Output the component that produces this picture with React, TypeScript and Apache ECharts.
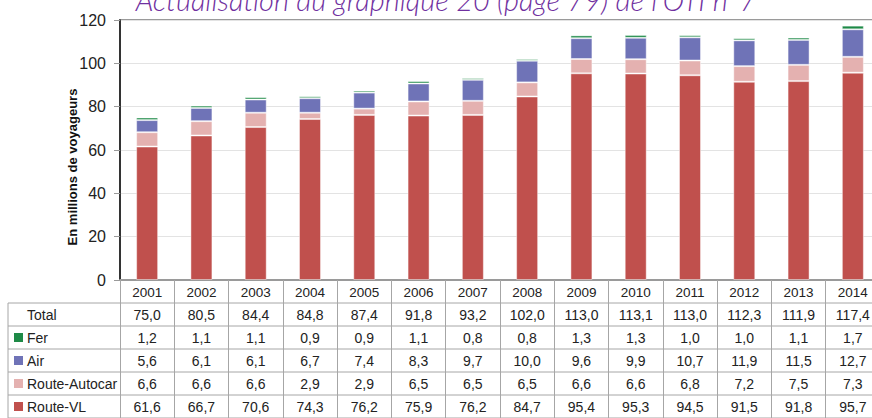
import React, { useEffect, useRef } from "react";
import * as echarts from "echarts";

const years = ["2001","2002","2003","2004","2005","2006","2007","2008","2009","2010","2011","2012","2013","2014"];
const total = [75.0, 80.5, 84.4, 84.8, 87.4, 91.8, 93.2, 102.0, 113.0, 113.1, 113.0, 112.3, 111.9, 117.4];
const fer = [1.2, 1.1, 1.1, 0.9, 0.9, 1.1, 0.8, 0.8, 1.3, 1.3, 1.0, 1.0, 1.1, 1.7];
const air = [5.6, 6.1, 6.1, 6.7, 7.4, 8.3, 9.7, 10.0, 9.6, 9.9, 10.7, 11.9, 11.5, 12.7];
const routeAutocar = [6.6, 6.6, 6.6, 2.9, 2.9, 6.5, 6.5, 6.5, 6.6, 6.6, 6.8, 7.2, 7.5, 7.3];
const routeVL = [61.6, 66.7, 70.6, 74.3, 76.2, 75.9, 76.2, 84.7, 95.4, 95.3, 94.5, 91.5, 91.8, 95.7];
const yTicks = [0, 20, 40, 60, 80, 100, 120];

const TITLE = "Actualisation du graphique 20 (page 79) de l'OTI n°7";
const Y_TITLE = "En millions de voyageurs";

const COLORS = {
  vl: "#C0504D",
  autocar: "#E4B1B0",
  air: "#6F73B7",
  fer: "#1E8A47",
};

const FONT = "'Liberation Sans', Arial, sans-serif";

export default function App() {
  const ref = useRef<HTMLDivElement>(null);
  useEffect(() => {
    if (!ref.current) return;
    const chart = echarts.init(ref.current, undefined, { renderer: "svg" });

    const W = 880;
    const LEFT = 120;
    const COLW = (W - LEFT) / years.length;
    const AXIS_Y = 280;
    const ROWH = 23;
    const TAB_LEFT = 8;
    const LINE = "#A6A6A6";

    const rows = [
      { name: "Total", data: total, color: null as string | null },
      { name: "Fer", data: fer, color: COLORS.fer },
      { name: "Air", data: air, color: COLORS.air },
      { name: "Route-Autocar", data: routeAutocar, color: COLORS.autocar },
      { name: "Route-VL", data: routeVL, color: COLORS.vl },
    ];

    const fmt = (v: number) => v.toFixed(1).replace(".", ",");

    const graphics: any[] = [];
    // title
    graphics.push({
      type: "text",
      x: 446,
      y: 14,
      style: {
        text: TITLE,
        fill: "#7030A0",
        font: "italic 300 29px Lato, 'Open Sans', sans-serif",
        align: "center",
        verticalAlign: "bottom",
      },
      silent: true,
    });
    // y title
    graphics.push({
      type: "text",
      x: 72,
      y: 167,
      rotation: Math.PI / 2,
      style: {
        text: Y_TITLE,
        fill: "#111",
        font: `bold 13px ${FONT}`,
        align: "center",
        verticalAlign: "middle",
      },
      silent: true,
    });
    // table horizontal lines
    for (let r = 0; r <= rows.length; r++) {
      const y = AXIS_Y + ROWH * (r + 1);
      graphics.push({
        type: "line",
        shape: { x1: TAB_LEFT, y1: y, x2: W, y2: y },
        style: { stroke: LINE, lineWidth: 1 },
        silent: true,
      });
    }
    graphics.push({
      type: "line",
      shape: { x1: TAB_LEFT, y1: AXIS_Y + ROWH, x2: TAB_LEFT, y2: AXIS_Y + ROWH * 6 },
      style: { stroke: LINE, lineWidth: 1 },
      silent: true,
    });
    rows.forEach((row, r) => {
      const cy = AXIS_Y + ROWH * (r + 1) + ROWH / 2;
      if (row.color) {
        graphics.push({
          type: "rect",
          shape: { x: 14, y: cy - 4.5, width: 9, height: 9 },
          style: { fill: row.color },
          silent: true,
        });
      }
      graphics.push({
        type: "text",
        x: 27,
        y: cy,
        style: { text: row.name, fill: "#222", font: `14px ${FONT}`, align: "left", verticalAlign: "middle" },
        silent: true,
      });
      row.data.forEach((v, i) => {
        graphics.push({
          type: "text",
          x: LEFT + COLW * (i + 0.5),
          y: cy,
          style: { text: fmt(v), fill: "#222", font: `14px ${FONT}`, align: "center", verticalAlign: "middle" },
          silent: true,
        });
      });
    });

    const barStyle = (color: string) => ({
      color,
      borderColor: "rgba(255,255,255,0.45)",
      borderWidth: 1,
    });

    chart.setOption({
      animation: false,
      backgroundColor: "#fff",
      textStyle: { fontFamily: FONT },
      grid: {
        left: LEFT,
        right: 0,
        top: 20,
        bottom: 418 - AXIS_Y,
        show: true,
        borderColor: "#9A9A9A",
        borderWidth: 2,
        backgroundColor: "transparent",
      },
      xAxis: {
        type: "category",
        data: years,
        axisLine: { lineStyle: { color: "#9A9A9A", width: 2 } },
        axisTick: { show: true, length: ROWH * 6, lineStyle: { color: LINE, width: 1 } },
        axisLabel: { color: "#222", fontSize: 13.5, margin: 5, fontFamily: FONT },
      },
      yAxis: {
        type: "value",
        min: yTicks[0],
        max: yTicks[yTicks.length - 1],
        interval: 20,
        axisLine: { show: true, lineStyle: { color: "#111", width: 1.5 } },
        axisTick: { show: true, length: 6, lineStyle: { color: "#9A9A9A" } },
        axisLabel: { color: "#222", fontSize: 16, margin: 14, fontFamily: FONT },
        splitLine: { lineStyle: { color: "#E3E3E3", width: 1 } },
      },
      series: [
        { name: "Route-VL", type: "bar", stack: "t", data: routeVL, barWidth: 22, itemStyle: barStyle(COLORS.vl) },
        { name: "Route-Autocar", type: "bar", stack: "t", data: routeAutocar, barWidth: 22, itemStyle: barStyle(COLORS.autocar) },
        { name: "Air", type: "bar", stack: "t", data: air, barWidth: 22, itemStyle: barStyle(COLORS.air) },
        { name: "Fer", type: "bar", stack: "t", data: fer, barWidth: 22, itemStyle: barStyle(COLORS.fer) },
      ],
      graphic: graphics,
    });
    return () => chart.dispose();
  }, []);
  return (
    <div
      ref={ref}
      style={{ position: "fixed", left: 0, top: 0, width: 880, height: 418, background: "#fff" }}
    />
  );
}
